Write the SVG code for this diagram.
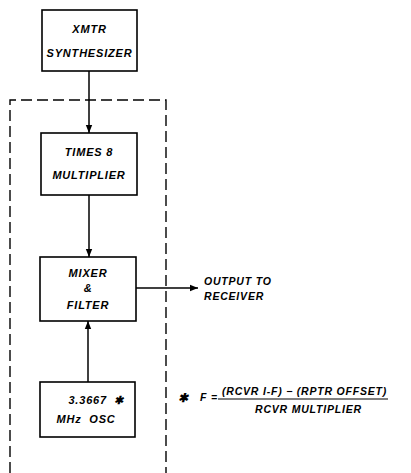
<svg xmlns="http://www.w3.org/2000/svg" width="411" height="473" viewBox="0 0 411 473">
<defs>
<marker id="ah" viewBox="0 0 10 10" refX="10" refY="5" markerWidth="9" markerHeight="8" markerUnits="userSpaceOnUse" orient="auto">
<path d="M0,1 L10,5 L0,9 Z" fill="#000"/>
</marker>
<style>
.box{fill:#fff;stroke:#000;stroke-width:1.6}
.t{font-family:"Liberation Sans",Arial,sans-serif;font-size:11px;font-weight:bold;font-style:italic;letter-spacing:0.8px;fill:#000;text-anchor:middle}
.l{font-family:"Liberation Sans",Arial,sans-serif;font-size:10.5px;font-weight:bold;font-style:italic;letter-spacing:0.8px;fill:#000}
.c{stroke:#000;stroke-width:1.5;fill:none}
.d{stroke:#000;stroke-width:1.4;fill:none;stroke-dasharray:11 5}
</style>
</defs>
<rect width="411" height="473" fill="#fff"/>
<path class="d" d="M10,473 V100 H166 V473"/>
<g id="connectors">
<line class="c" x1="89" y1="71" x2="89" y2="133" marker-end="url(#ah)"/>
<line class="c" x1="89" y1="195" x2="89" y2="257" marker-end="url(#ah)"/>
<line class="c" x1="88" y1="382" x2="88" y2="321" marker-end="url(#ah)"/>
<line class="c" x1="136" y1="288" x2="198" y2="288" marker-end="url(#ah)"/>
</g>
<g id="xmtr">
<rect class="box" x="42" y="10" width="95" height="61"/>
<text class="t" x="89.5" y="33">XMTR</text>
<text class="t" x="89.5" y="57">SYNTHESIZER</text>
</g>
<g id="times8">
<rect class="box" x="41" y="133" width="96" height="62"/>
<text class="t" x="89" y="156">TIMES 8</text>
<text class="t" x="89" y="179">MULTIPLIER</text>
</g>
<g id="mixer">
<rect class="box" x="40" y="257" width="96" height="64"/>
<text class="t" x="88" y="277">MIXER</text>
<text class="t" x="88" y="292">&amp;</text>
<text class="t" x="88" y="309">FILTER</text>
</g>
<g id="osc">
<rect class="box" x="40" y="382" width="95" height="55"/>
<text class="t" x="96" y="404" style="word-spacing:3px">3.3667 ✱</text>
<text class="t" x="86" y="423" style="word-spacing:4px">MHz OSC</text>
</g>
<g id="output">
<text class="l" x="204" y="285">OUTPUT TO</text>
<text class="l" x="204" y="300">RECEIVER</text>
</g>
<g id="formula">
<text class="l" x="178" y="402" style="font-size:12px">✱</text>
<text class="l" x="200" y="401">F =</text>
<text class="l" x="222" y="395" textLength="165">(RCVR I-F) − (RPTR OFFSET)</text>
<line x1="218" y1="399" x2="388" y2="399" stroke="#000" stroke-width="1.2"/>
<text class="l" x="255" y="413">RCVR MULTIPLIER</text>
</g>
</svg>
